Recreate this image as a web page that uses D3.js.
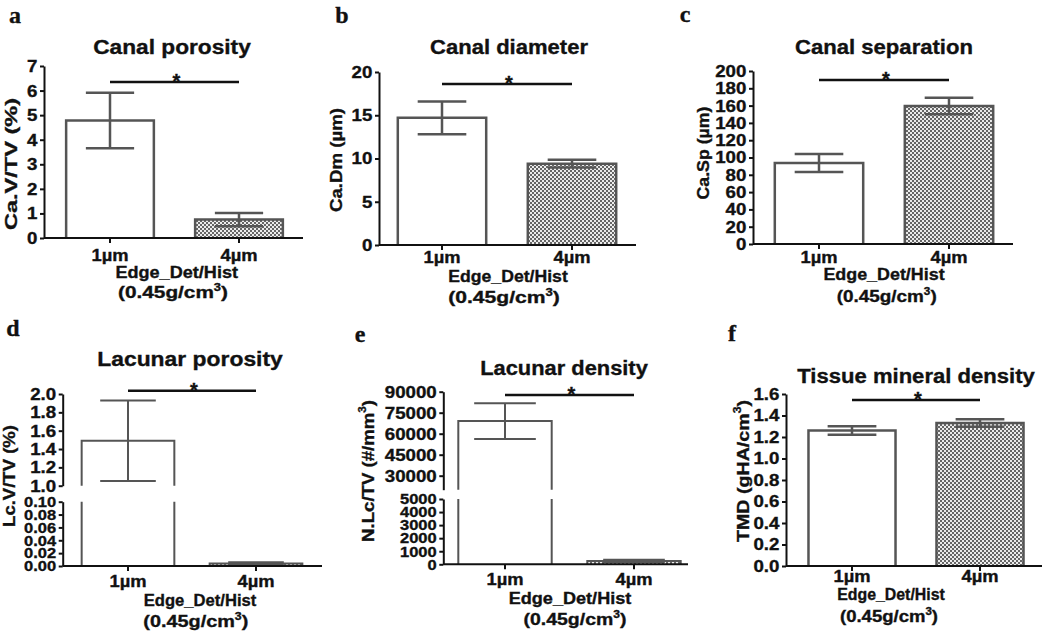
<!DOCTYPE html>
<html><head><meta charset="utf-8">
<script src="https://cdn.jsdelivr.net/npm/d3@7"></script>
<style>
body{margin:0;background:#fff}
text{font-family:"Liberation Sans",Arial,sans-serif;font-weight:bold;fill:#111;stroke:#111;stroke-width:0.35px}
</style>
</head><body>
<svg id="chart" width="1050" height="637"></svg>
<script>
// ---------- data ----------
const categories = ["1µm", "4µm"];
const panelLetters = ["a", "b", "c", "d", "e", "f"];
const panelTitles = ["Canal porosity", "Canal diameter", "Canal separation",
                     "Lacunar porosity", "Lacunar density", "Tissue mineral density"];
const yAxisLabels = [
  [["Ca.V/TV (%)", 0]],
  [["Ca.Dm (µm)", 0]],
  [["Ca.Sp (µm)", 0]],
  [["Lc.V/TV (%)", 0]],
  [["N.Lc/TV (#/mm", 0], ["3", 1], [")", 0]],
  [["TMD (gHA/cm", 0], ["3", 1], [")", 0]]
];
const xAxisTitle = "Edge_Det/Hist";
const xAxisSubtitle = [["(0.45g/cm", 0], ["3", 1], [")", 0]];

const canalPorosityMean = [4.78, 0.75];
const canalPorositySem  = [1.13, 0.27];
const canalDiameterMean = [14.7, 9.4];
const canalDiameterSem  = [1.9, 0.45];
const canalSeparationMean = [93.6, 159.5];
const canalSeparationSem  = [10.5, 9.5];
const lacunarPorosityMean = [1.49, 0.004];
const lacunarPorositySem  = [0.44, 0.002];
const lacunarDensityMean = [69000, 250];
const lacunarDensitySem  = [12800, 100];
const tmdMean = [1.26, 1.33];
const tmdSem  = [0.04, 0.035];
const sigLevels = [6.35, 18.6, 189.6, 2.036, 87600, 1.544];

const canalPorosityTicks = [0, 1, 2, 3, 4, 5, 6, 7];
const canalDiameterTicks = [0, 5, 10, 15, 20];
const canalSeparationTicks = [0, 20, 40, 60, 80, 100, 120, 140, 160, 180, 200];
const lacunarPorosityTicksLow = [0, 0.02, 0.04, 0.06, 0.08, 0.10];
const lacunarPorosityTicksHigh = [1.0, 1.2, 1.4, 1.6, 1.8, 2.0];
const lacunarDensityTicksLow = [0, 1000, 2000, 3000, 4000, 5000];
const lacunarDensityTicksHigh = [30000, 45000, 60000, 75000, 90000];
const tmdTicks = [0, 0.2, 0.4, 0.6, 0.8, 1.0, 1.2, 1.4, 1.6];

// ---------- layout ----------
const panels = [
  {mean: canalPorosityMean, sem: canalPorositySem, sig: sigLevels[0],
   segs: [{domain: [0, 7], range: [238, 66], ticks: canalPorosityTicks, fmt: d3.format("d"), fs: 17}],
   axisX: 44, axisRight: 303, centers: [110, 239], pIn: 0.32, pOut: 0.18, cap: 0.55, sw: 2.5, xPad: 6,
   letter: [7, 23], title: [172, 54, 158], ylab: [17, 164, 132], xt: [176.7, 278, 123], xs: [173, 298, 110]},
  {mean: canalDiameterMean, sem: canalDiameterSem, sig: sigLevels[1],
   segs: [{domain: [0, 20], range: [245, 72], ticks: canalDiameterTicks, fmt: d3.format("d"), fs: 17}],
   axisX: 379, axisRight: 636, centers: [442, 572], pIn: 0.32, pOut: 0.18, cap: 0.55, sw: 2.5, xPad: 1,
   letter: [334, 23], title: [509, 53.5, 158], ylab: [342, 160, 104], xt: [508, 281.7, 120], xs: [504, 303, 111.7]},
  {mean: canalSeparationMean, sem: canalSeparationSem, sig: sigLevels[2],
   segs: [{domain: [0, 200], range: [244, 71], ticks: canalSeparationTicks, fmt: d3.format("d"), fs: 17}],
   axisX: 753, axisRight: 1013, centers: [819, 949], pIn: 0.32, pOut: 0.18, cap: 0.55, sw: 2.5, xPad: 2,
   letter: [677, 22], title: [884, 54, 178], ylab: [709, 153, 93], xt: [884, 280, 121.7], xs: [886.7, 301.7, 100]},
  {mean: lacunarPorosityMean, sem: lacunarPorositySem, sig: sigLevels[3],
   segs: [{domain: [0, 0.1], range: [566, 501.7], ticks: lacunarPorosityTicksLow, fmt: d3.format(".2f"), fs: 15},
          {domain: [1, 2], range: [485.7, 394], ticks: lacunarPorosityTicksHigh, fmt: d3.format(".1f"), fs: 17}],
   axisX: 62.7, axisRight: 322, centers: [128, 256], pIn: 0.276, pOut: 0.13, cap: 0.6, sw: 2, xPad: 3.7,
   letter: [5, 336], title: [190, 365.7, 186], ylab: [15, 476, 102], xt: [200, 606, 113], xs: [195.8, 627.3, 105]},
  {mean: lacunarDensityMean, sem: lacunarDensitySem, sig: sigLevels[4],
   segs: [{domain: [0, 5000], range: [564.3, 499], ticks: lacunarDensityTicksLow, fmt: d3.format("d"), fs: 15},
          {domain: [20000, 90000], range: [489.7, 391.7], ticks: lacunarDensityTicksHigh, fmt: d3.format("d"), fs: 17}],
   axisX: 443.3, axisRight: 688, centers: [505, 634], pIn: 0.276, pOut: 0.13, cap: 0.66, sw: 2, xPad: 3.7,
   letter: [352, 342], title: [564, 375, 168], ylab: [373.5, 471, 142], xt: [570, 604, 123], xs: [575, 625, 103]},
  {mean: tmdMean, sem: tmdSem, sig: sigLevels[5],
   segs: [{domain: [0, 1.6], range: [566, 394], ticks: tmdTicks, fmt: d3.format(".1f"), fs: 17}],
   axisX: 786, axisRight: 1042, centers: [852, 980], pIn: 0.32, pOut: 0.18, cap: 0.56, sw: 2.5, xPad: -1.2,
   letter: [724, 341], title: [916, 382.7, 238], ylab: [748.5, 471, 142], xt: [891, 600, 108], xs: [889, 621.7, 98]}
];

// ---------- drawing ----------
const svg = d3.select("#chart");
svg.append("rect").attr("width", 1050).attr("height", 637).attr("fill", "#fff");
const defs = svg.append("defs");
const pat = defs.append("pattern").attr("id", "checker").attr("width", 4).attr("height", 4)
  .attr("patternUnits", "userSpaceOnUse");
pat.append("rect").attr("width", 4).attr("height", 4).attr("fill", "#ececec");
pat.append("rect").attr("width", 2).attr("height", 2).attr("fill", "#666");
pat.append("rect").attr("x", 2).attr("y", 2).attr("width", 2).attr("height", 2).attr("fill", "#666");

const BAR = "#555", INK = "#111";

function placeText(parts, x, y, size, width, rotate, family) {
  const g = svg.append("g").attr("transform", `translate(${x},${y}) rotate(${rotate || 0})`);
  const t = g.append("text").attr("text-anchor", "middle").style("font-size", size + "px");
  if (family) t.style("font-family", family);
  let shift = 0;
  parts.forEach(([s, sup]) => {
    const ts = t.append("tspan").text(s);
    if (sup) { ts.style("font-size", (size * 0.62) + "px").attr("dy", -size * 0.42); shift = size * 0.42; }
    else if (shift) { ts.attr("dy", shift); shift = 0; }
  });
  if (width) {
    const w = t.node().getBBox().width;
    t.attr("transform", `scale(${width / w},1)`);
  }
  return t;
}

panels.forEach((p, pi) => {
  const step = p.centers[1] - p.centers[0];
  const x0 = p.centers[0] - step * (p.pOut + (1 - p.pIn) / 2);
  const x = d3.scaleBand().domain(categories)
    .range([x0, x0 + step * (2 - p.pIn + 2 * p.pOut)])
    .paddingInner(p.pIn).paddingOuter(p.pOut);
  const ys = p.segs.map(s => d3.scaleLinear().domain(s.domain).range(s.range));
  const pos = v => { let i = p.segs.length - 1; while (i > 0 && v < p.segs[i].domain[0]) i--; return ys[i](v); };
  const bw = x.bandwidth();
  const g = svg.append("g");

  // bars
  categories.forEach((c, i) => {
    const v = p.mean[i], left = x(c);
    const fill = i === 0 ? "#fff" : "url(#checker)";
    p.segs.forEach((s, si) => {
      if (v <= s.domain[0]) return;
      const top = Math.min(v, s.domain[1]);
      const yT = ys[si](top), yB = ys[si](s.domain[0]);
      g.append("rect").attr("x", left).attr("y", yT).attr("width", bw).attr("height", yB - yT).attr("fill", fill);
      const path = top === v
        ? `M${left},${yB}V${yT}H${left + bw}V${yB}`
        : `M${left},${yB}V${yT}M${left + bw},${yT}V${yB}`;
      g.append("path").attr("d", path).attr("fill", "none").attr("stroke", BAR).attr("stroke-width", p.sw);
    });
    // error bars
    const cx = left + bw / 2, cw = bw * p.cap;
    const lo = pos(v - p.sem[i]), hi = pos(v + p.sem[i]);
    g.append("path")
      .attr("d", `M${cx},${lo}V${hi}M${cx - cw / 2},${hi}H${cx + cw / 2}M${cx - cw / 2},${lo}H${cx + cw / 2}`)
      .attr("fill", "none").attr("stroke", BAR).attr("stroke-width", p.sw);
  });

  // y axis
  p.segs.forEach((s, si) => {
    const ax = g.append("g").attr("transform", `translate(${p.axisX},0)`)
      .call(d3.axisLeft(ys[si]).tickValues(s.ticks).tickFormat(s.fmt).tickSize(4).tickPadding(2).tickSizeOuter(0));
    ax.select(".domain").attr("stroke", INK).attr("stroke-width", 2);
    ax.selectAll(".tick line").attr("stroke", INK).attr("stroke-width", 2);
    ax.selectAll(".tick text").attr("fill", INK).style("font-size", s.fs + "px")
      .attr("font-family", null).attr("transform", "scale(1.1,1)");
  });

  // x axis
  const y0 = pos(0);
  g.append("line").attr("x1", p.axisX).attr("x2", p.axisRight).attr("y1", y0).attr("y2", y0)
    .attr("stroke", INK).attr("stroke-width", 2);
  const xa = g.append("g").attr("transform", `translate(0,${y0})`)
    .call(d3.axisBottom(x).tickSize(5).tickPadding(p.xPad).tickSizeOuter(0));
  xa.select(".domain").remove();
  xa.selectAll(".tick line").attr("stroke", INK).attr("stroke-width", 2);
  xa.selectAll(".tick text").attr("fill", INK).style("font-size", "17px")
    .attr("font-family", null).attr("transform", "scale(1.08,1)");

  // significance
  const sy = pos(p.sig);
  const c0 = x(categories[0]) + bw / 2, c1 = x(categories[1]) + bw / 2;
  g.append("line").attr("x1", c0).attr("x2", c1).attr("y1", sy).attr("y2", sy)
    .attr("stroke", INK).attr("stroke-width", 2.5);
  placeText([["*", 0]], (c0 + c1) / 2 + 2, sy + 6, 20);

  // texts
  placeText([[panelLetters[pi], 0]], p.letter[0] + 8, p.letter[1], 24, null, 0, "'Liberation Serif','Times New Roman',serif");
  placeText([[panelTitles[pi], 0]], p.title[0], p.title[1], 21, p.title[2]);
  placeText(yAxisLabels[pi], p.ylab[0], p.ylab[1], 17, p.ylab[2], -90);
  placeText([[xAxisTitle, 0]], p.xt[0], p.xt[1], 17, p.xt[2]);
  placeText(xAxisSubtitle, p.xs[0], p.xs[1], 17, p.xs[2]);
});
</script>
</body></html>
